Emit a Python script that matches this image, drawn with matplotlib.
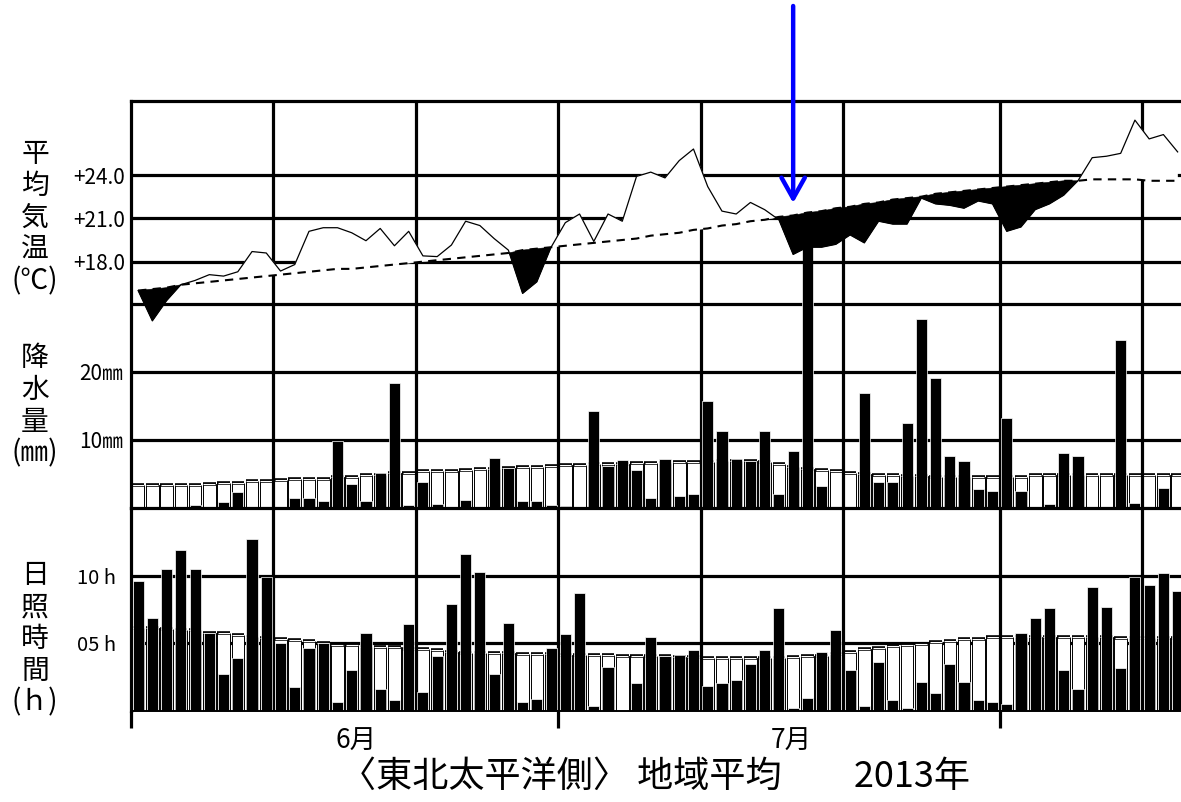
import numpy as np
import matplotlib
matplotlib.use("Agg")
import matplotlib.pyplot as plt

plt.rcParams['font.family'] = ['Noto Sans CJK JP', 'DejaVu Sans']

# daily values, 2013-06-01 .. 2013-08-13
temp_obs = [16.0, 13.9, 15.3, 16.4, 16.7, 17.1, 17.0, 17.3, 18.7, 18.6,
            17.35, 17.8, 20.1, 20.35, 20.35, 20.0, 19.45, 20.3, 19.1, 20.1,
            18.4, 18.35, 19.15, 20.8, 20.5, 19.6, 18.8, 15.8, 16.6, 19.0,
            20.7, 21.3, 19.4, 21.3, 20.8, 23.9, 24.2, 23.8, 25.0, 25.8,
            23.2, 21.5, 21.3, 22.1, 21.6, 20.9, 18.5, 19.0, 19.0, 19.2,
            19.85, 19.3, 20.8, 20.6, 20.6, 22.4, 22.0, 21.9, 21.7, 22.2, 22.0,
            20.1, 20.4, 21.6, 22.0, 22.6, 23.6, 25.2, 25.3, 25.5, 27.8, 26.5, 26.8, 25.6]
temp_norm = [16.0, 16.1, 16.2, 16.4, 16.5, 16.6, 16.7, 16.8, 16.9, 17.0,
             17.1, 17.2, 17.3, 17.4, 17.5, 17.5, 17.6, 17.7, 17.8, 17.9,
             18.0, 18.1, 18.2, 18.3, 18.4, 18.5, 18.6, 18.8, 18.9, 19.0,
             19.1, 19.2, 19.3, 19.4, 19.5, 19.6, 19.8, 19.9, 20.0, 20.2,
             20.3, 20.5, 20.6, 20.8, 20.9, 21.1, 21.2, 21.4, 21.5, 21.7,
             21.8, 22.0, 22.1, 22.3, 22.4, 22.5, 22.7, 22.8, 22.9, 23.0, 23.1,
             23.2, 23.3, 23.4, 23.5, 23.6, 23.6, 23.7, 23.7, 23.7, 23.7, 23.6, 23.6, 23.6]
rain_obs = [0.2, 0.2, 0.0, 0.0, 0.5, 0.2, 0.9, 2.4, 0.1, 0.1,
            0.2, 1.5, 1.5, 1.0, 9.8, 3.6, 1.0, 5.1, 18.4, 0.4,
            3.8, 0.6, 0.2, 1.2, 0.1, 7.3, 5.9, 1.0, 1.0, 0.4,
            0.3, 0.2, 14.2, 6.2, 7.0, 5.6, 1.5, 7.2, 1.7, 2.1,
            15.7, 11.3, 7.2, 6.9, 11.3, 2.0, 8.4, 39.0, 3.2, 0.2,
            0.2, 16.9, 3.8, 3.8, 12.5, 27.8, 19.1, 7.6, 6.9, 2.8, 2.5,
            13.2, 2.5, 0.2, 0.6, 8.1, 7.6, 0.2, 0.1, 24.7, 0.7, 0.2, 2.9, 0.2]
rain_norm = [3.4, 3.4, 3.4, 3.4, 3.4, 3.6, 3.7, 3.7, 3.9, 4.0,
             4.1, 4.2, 4.2, 4.3, 4.5, 4.6, 4.8, 4.9, 5.1, 5.2,
             5.4, 5.5, 5.5, 5.6, 5.7, 5.8, 5.9, 6.0, 6.1, 6.2,
             6.3, 6.3, 6.4, 6.5, 6.5, 6.6, 6.6, 6.6, 6.7, 6.7,
             6.8, 6.9, 6.9, 6.9, 6.7, 6.4, 6.0, 5.8, 5.6, 5.4,
             5.2, 5.0, 4.9, 4.9, 4.7, 4.7, 4.6, 4.6, 4.6, 4.5, 4.5,
             4.5, 4.6, 4.8, 4.9, 4.9, 4.9, 4.9, 4.9, 4.9, 4.9, 4.9, 4.9, 4.9]
sun_obs = [9.6, 6.9, 10.5, 11.9, 10.5, 5.75, 2.7, 3.9, 12.7, 9.9,
           5.0, 1.75, 4.65, 5.0, 0.7, 3.0, 5.8, 1.6, 0.8, 6.4,
           1.4, 4.1, 7.9, 11.6, 10.3, 2.7, 6.5, 0.65, 0.85, 4.65,
           5.7, 8.7, 0.4, 3.25, 0.0, 2.1, 5.5, 4.05, 4.15, 4.5,
           1.85, 2.05, 2.3, 3.5, 4.5, 7.6, 0.25, 0.95, 4.35, 5.95,
           3.0, 0.35, 3.6, 0.8, 0.25, 2.15, 1.3, 3.5, 2.15, 0.8, 0.65,
           0.5, 5.8, 6.85, 7.6, 3.0, 1.6, 9.15, 7.7, 3.2, 9.9, 9.3, 10.2, 8.9]
sun_norm = [6.1, 6.1, 6.05, 6.0, 6.0, 5.8, 5.75, 5.6, 5.5, 5.4,
            5.3, 5.25, 5.15, 5.0, 4.9, 4.85, 4.7, 4.7, 4.7, 4.55,
            4.55, 4.5, 4.35, 4.3, 4.3, 4.3, 4.3, 4.2, 4.2, 4.2,
            4.15, 4.15, 4.15, 4.15, 4.1, 4.05, 4.05, 4.05, 4.0, 4.0,
            3.9, 3.9, 3.9, 3.9, 3.9, 3.95, 4.0, 4.05, 4.1, 4.2,
            4.35, 4.55, 4.65, 4.8, 4.9, 4.95, 5.1, 5.15, 5.3, 5.35, 5.45,
            5.45, 5.45, 5.45, 5.45, 5.45, 5.45, 5.45, 5.45, 5.4, 5.4, 5.4, 5.4, 5.4]

temp_ticks = [18.0, 21.0, 24.0]
temp_labels = ['+18.0', '+21.0', '+24.0']
rain_ticks = [10, 20]
rain_labels = ['10㎜', '20㎜']
rain_lines = [10, 20, 30]
sun_ticks = [5, 10]
sun_labels = ['05 h', '10 h']
grid_days = [0, 10, 20, 30, 40, 50, 61, 71]   # 1st, 11th, 21st of each month
month_edges = [0, 30, 61]
month_pos = [15.8, 46.4]
month_labels = ['6月', '7月']
mark_day = 46.5   # 7/17

n = len(temp_obs)
x = np.arange(n) + 0.5
t_obs = np.array(temp_obs)
t_norm = np.array(temp_norm)

# layout in pixels
W, H = 1181, 802
LEFT, RIGHT, TOP, MID, BOT = 131, 1181, 101, 508, 711
DAY_PX = 14.24
RAIN_PX = 6.8      # px per mm
TEMP_PX = 14.44    # px per degC
GRID_LW = 2.3

fig = plt.figure(figsize=(W / 100, H / 100), dpi=100)


def box(top, bottom):
    return [LEFT / W, (H - bottom) / H, (RIGHT - LEFT) / W, (bottom - top) / H]


ax_sun = fig.add_axes(box(MID, BOT))
ax_rain = fig.add_axes(box(TOP, MID), sharex=ax_sun)
ax_temp = fig.add_axes(box(TOP, MID), sharex=ax_sun)
ax_temp.patch.set_visible(False)

ax_sun.set_xlim(0, (RIGHT - LEFT) / DAY_PX)
ax_sun.set_ylim(0, 15)
ax_rain.set_ylim(0, (MID - TOP) / RAIN_PX)
ax_temp.set_ylim(15 - (MID - 305) / TEMP_PX, 24 + (175 - TOP) / TEMP_PX)

for ax in (ax_sun, ax_rain, ax_temp):
    for s in ax.spines.values():
        s.set_visible(False)

# grid frame
for ax in (ax_sun, ax_rain):
    for d in grid_days:
        ax.axvline(d, color='k', lw=GRID_LW, zorder=2.5, clip_on=(d != 0))
for v in rain_lines:
    ax_rain.axhline(v, color='k', lw=GRID_LW, zorder=0)
ax_rain.axhline(0, color='k', lw=GRID_LW, zorder=4, clip_on=False)
for v in sun_ticks:
    ax_sun.axhline(v, color='k', lw=GRID_LW, zorder=0)
ax_sun.axhline(0, color='k', lw=1.4, zorder=4, clip_on=False)
for v in temp_ticks:
    ax_temp.axhline(v, color='k', lw=GRID_LW, zorder=0.5)
ax_temp.spines['top'].set_visible(True)
ax_temp.spines['top'].set_linewidth(GRID_LW)


def daily_bars(ax, obs, norm):
    ax.bar(x, norm, width=0.88, color='w', edgecolor='k', lw=0.7, zorder=2)
    ax.hlines(norm, x - 0.44, x + 0.44, color='k', lw=2.6, zorder=2.1)
    ax.hlines(norm, x - 0.42, x + 0.42, color='w', lw=0.8, zorder=2.2)
    ax.bar(x, obs, width=0.78, color='k', edgecolor='w', lw=0.5, zorder=3)


daily_bars(ax_rain, rain_obs, rain_norm)
daily_bars(ax_sun, sun_obs, sun_norm)

# mean temperature: below normal black, above normal blanked out
ax_temp.fill_between(x, t_obs, t_norm, where=t_obs >= t_norm, interpolate=True,
                     color='w', lw=0.4, zorder=1)
ax_temp.fill_between(x, t_obs, t_norm, where=t_obs < t_norm, interpolate=True,
                     color='k', lw=0.4, zorder=1.1)
ax_temp.plot(x, t_norm, color='k', lw=1.5, dashes=(4, 3), zorder=3)
ax_temp.plot(x, t_obs, color='k', lw=0.9, zorder=4)

# ticks and labels
ax_temp.set_yticks(temp_ticks, temp_labels)
ax_rain.set_yticks(rain_ticks, rain_labels)
ax_sun.set_yticks(sun_ticks, sun_labels)
ax_temp.tick_params(axis='y', length=0, pad=4, labelsize=15)
ax_rain.tick_params(axis='y', length=0, pad=6, labelsize=15)
ax_sun.tick_params(axis='y', length=0, pad=11, labelsize=14.5)
ax_rain.tick_params(axis='x', which='both', bottom=False, labelbottom=False)
ax_temp.tick_params(axis='x', which='both', bottom=False, labelbottom=False)

ax_sun.set_xticks(month_edges, [''] * len(month_edges))
ax_sun.set_xticks(month_pos, month_labels, minor=True)
ax_sun.tick_params(axis='x', which='major', length=12, width=GRID_LW, direction='out')
ax_sun.tick_params(axis='x', which='minor', length=0, pad=12, labelsize=19)

fig.text(35 / W, 1 - 218 / H, '平\n均\n気\n温\n(℃)', ha='center', va='center',
         fontsize=20, linespacing=1.08)
fig.text(35 / W, 1 - 406 / H, '降\n水\n量\n(㎜)', ha='center', va='center',
         fontsize=20, linespacing=1.08)
fig.text(35 / W, 1 - 639 / H, '日\n照\n時\n間\n(ｈ)', ha='center', va='center',
         fontsize=20, linespacing=1.08)
fig.text(655 / W, 1 - 777 / H, '〈東北太平洋側〉 地域平均　　2013年', ha='center',
         va='center', fontsize=26)

# arrow marking the start of the cool spell
ax_temp.annotate('', xy=(mark_day, 24 - (203 - 175) / TEMP_PX), xycoords='data',
                 xytext=(mark_day, 1 - 6 / H), textcoords=('data', 'figure fraction'),
                 arrowprops=dict(arrowstyle='->,head_length=0.75,head_width=0.42',
                                 mutation_scale=20, color='#0000ff', lw=3.2,
                                 shrinkA=0, shrinkB=0),
                 zorder=6)

fig.savefig('out.png', dpi=100)
